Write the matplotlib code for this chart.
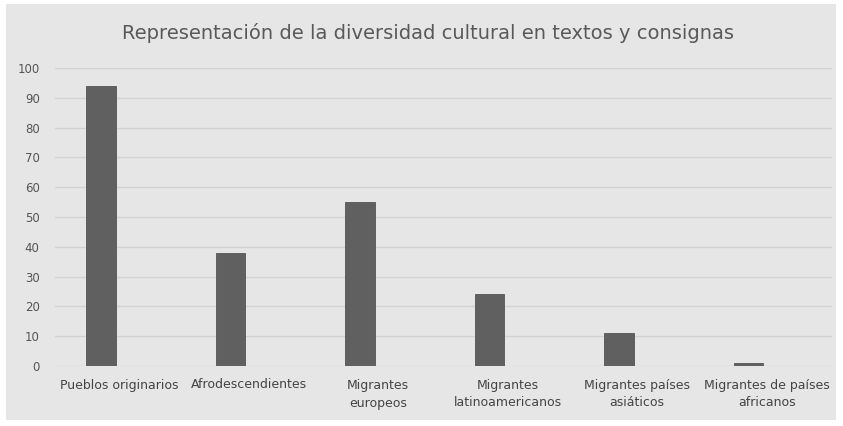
import matplotlib
matplotlib.use("Agg")
import matplotlib.pyplot as plt
from matplotlib.patches import Rectangle

categories = ["Pueblos originarios", "Afrodescendientes", "Migrantes\neuropeos",
              "Migrantes\nlatinoamericanos", "Migrantes países\nasiáticos",
              "Migrantes de países\nafricanos"]
values = [94, 38, 55, 24, 11, 1]
yticks = [0, 10, 20, 30, 40, 50, 60, 70, 80, 90, 100]
title = "Representación de la diversidad cultural en textos y consignas"

W, H = 843, 426
fig = plt.figure(figsize=(W / 100, H / 100), dpi=100)
fig.patch.set_facecolor("white")
bg = "#e6e6e6"
fig.patches.append(Rectangle((6 / W, 6 / H), (836 - 6) / W, (422 - 6) / H,
                             transform=fig.transFigure, facecolor=bg,
                             edgecolor="none", zorder=-5))

left, right = 55, 832
top, bottom = 68, 366
ax = fig.add_axes([left / W, 1 - bottom / H, (right - left) / W, (bottom - top) / H])
ax.set_zorder(2)
ax.patch.set_alpha(0)

x = list(range(len(values)))
ax.bar(x, values, width=0.23, color="#606060", edgecolor="#555555", linewidth=0.6, zorder=3)
ax.set_xlim(-0.355, 5.645)
ax.set_ylim(0, 100)
ax.set_yticks(yticks)
ax.yaxis.grid(True, color="#d2d2d2", linewidth=1.0, zorder=0)
ax.set_axisbelow(True)
for s in ax.spines.values():
    s.set_visible(False)
ax.tick_params(axis="both", length=0, labelsize=8.5, colors="#555555")
ax.tick_params(axis="y", pad=11)
ax.set_xticks([i + 0.14 for i in x])
ax.set_xticklabels(categories, fontsize=9, color="#444444", linespacing=1.5)
ax.tick_params(axis="x", pad=9)

fig.text(428 / W, 1 - 33 / H, title, ha="center", va="center",
         fontsize=14, color="#595959", zorder=3)

fig.savefig("out.png", dpi=100)
